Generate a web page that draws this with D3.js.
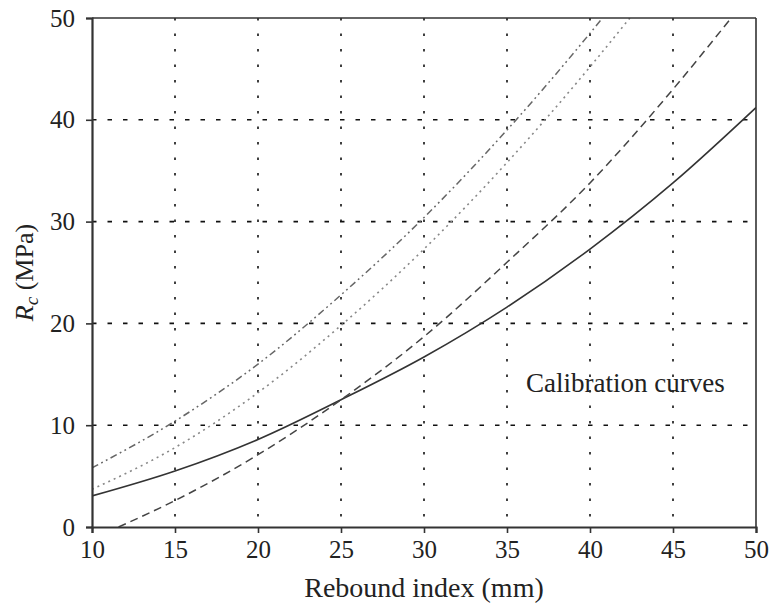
<!DOCTYPE html>
<html>
<head>
<meta charset="utf-8">
<script src="https://cdn.jsdelivr.net/npm/d3@7"></script>
<style>
  body { margin: 0; background: #fff; }
  text { font-family: "Liberation Serif", "DejaVu Serif", serif; fill: #222; }
</style>
</head>
<body>
<svg id="chart" width="771" height="610"></svg>
<script>
// values
const xTicks = [10, 15, 20, 25, 30, 35, 40, 45, 50];
const yTicks = [0, 10, 20, 30, 40, 50];

const solidX = [10, 15, 20, 25, 30, 35, 40, 45, 50];
const solidY = [3.05, 5.5, 8.6, 12.5, 16.7, 21.6, 27.3, 33.8, 41.2];

const dashedX = [11.6, 15, 20, 25, 30, 35, 40, 45, 48.5];
const dashedY = [0, 2.6, 7.1, 12.5, 18.7, 26.0, 33.8, 43.0, 50];

const dottedX = [10, 15, 20, 25, 30, 35, 40, 42.4];
const dottedY = [3.7, 7.8, 13.2, 19.8, 27.3, 35.8, 45.2, 50];

const dashDotX = [10, 15, 20, 25, 30, 35, 40, 40.75];
const dashDotY = [5.8, 10.4, 16.0, 22.8, 30.4, 39.0, 48.5, 50];

const width = 771, height = 610;
const margin = { top: 18, right: 15, bottom: 83, left: 92 };

const svg = d3.select('#chart');

const x = d3.scaleLinear().domain([10, 50]).range([margin.left, width - margin.right]);
const y = d3.scaleLinear().domain([0, 50]).range([height - margin.bottom, margin.top]);

// grid
svg.append('g')
  .selectAll('line')
  .data(xTicks.slice(1, -1))
  .join('line')
  .attr('x1', d => x(d)).attr('x2', d => x(d))
  .attr('y1', y(50)).attr('y2', y(0))
  .attr('stroke', '#111')
  .attr('stroke-width', 1.6)
  .attr('stroke-dasharray', '2.5,13');

svg.append('g')
  .selectAll('line')
  .data(yTicks.slice(1, -1))
  .join('line')
  .attr('x1', x(10)).attr('x2', x(50))
  .attr('y1', d => y(d)).attr('y2', d => y(d))
  .attr('stroke', '#111')
  .attr('stroke-width', 1.6)
  .attr('stroke-dasharray', '4.5,11');

// curves
svg.append('clipPath').attr('id', 'clip')
  .append('rect')
  .attr('x', x(10)).attr('y', y(50))
  .attr('width', x(50) - x(10)).attr('height', y(0) - y(50));

const line = d3.line()
  .x(d => x(d[0]))
  .y(d => y(d[1]))
  .curve(d3.curveMonotoneX);

const series = [
  { xs: solidX, ys: solidY, color: '#333', dash: null, w: 1.6 },
  { xs: dashedX, ys: dashedY, color: '#444', dash: '8,5', w: 1.5 },
  { xs: dottedX, ys: dottedY, color: '#888', dash: '2,4', w: 1.6 },
  { xs: dashDotX, ys: dashDotY, color: '#666', dash: '7,3.5,1.8,3.5,1.8,3.5', w: 1.5 }
];

svg.append('g')
  .attr('clip-path', 'url(#clip)')
  .selectAll('path')
  .data(series)
  .join('path')
  .attr('d', s => line(s.xs.map((v, i) => [v, s.ys[i]])))
  .attr('fill', 'none')
  .attr('stroke', s => s.color)
  .attr('stroke-width', s => s.w)
  .attr('stroke-dasharray', s => s.dash);

// frame (top + right)
svg.append('line')
  .attr('x1', x(10)).attr('x2', x(50)).attr('y1', y(50)).attr('y2', y(50))
  .attr('stroke', '#333').attr('stroke-width', 1.6);
svg.append('line')
  .attr('x1', x(50)).attr('x2', x(50)).attr('y1', y(50)).attr('y2', y(0))
  .attr('stroke', '#333').attr('stroke-width', 1.6);

// axes
const xAxis = svg.append('g')
  .attr('transform', `translate(0, ${y(0)})`)
  .call(d3.axisBottom(x).tickValues(xTicks).tickSize(6).tickPadding(7));

const yAxis = svg.append('g')
  .attr('transform', `translate(${x(10)}, 0)`)
  .call(d3.axisLeft(y).tickValues(yTicks).tickSize(6).tickPadding(11));

[xAxis, yAxis].forEach(g => {
  g.select('.domain').attr('stroke', '#333').attr('stroke-width', 2.2);
  g.selectAll('.tick line').attr('stroke', '#333').attr('stroke-width', 1.6);
  g.selectAll('.tick text')
    .attr('font-family', '"Liberation Serif", serif')
    .attr('font-size', 25)
    .attr('fill', '#222');
});

// labels
svg.append('text')
  .attr('x', (x(10) + x(50)) / 2)
  .attr('y', 597)
  .attr('text-anchor', 'middle')
  .attr('font-size', 28)
  .text('Rebound index (mm)');

const yl = svg.append('text')
  .attr('transform', `translate(33, ${(y(0) + y(50)) / 2}) rotate(-90)`)
  .attr('text-anchor', 'middle')
  .attr('font-size', 26);
yl.append('tspan').attr('font-style', 'italic').text('R');
yl.append('tspan').attr('font-style', 'italic').attr('font-size', 19).attr('dy', 5).text('c');
yl.append('tspan').attr('dy', -5).text(' (MPa)');

svg.append('text')
  .attr('x', 526)
  .attr('y', 392)
  .attr('font-size', 27)
  .text('Calibration curves');
</script>
</body>
</html>
